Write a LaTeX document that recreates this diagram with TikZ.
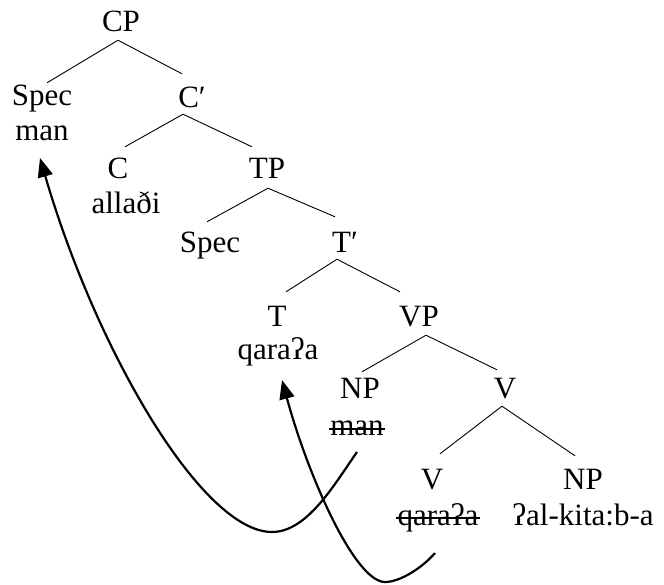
\documentclass[tikz,border=0pt]{standalone}
\usepackage{fontspec}
\setmainfont{Liberation Serif}
\usetikzlibrary{arrows.meta}
\begin{document}
\begin{tikzpicture}[x=1pt,y=-1pt,
  lab/.style={anchor=base, inner xsep=0pt, inner ysep=0pt, text height=21pt, text depth=0pt, font=\fontsize{31}{36}\selectfont},
  branch/.style={line width=0.9pt},
  move/.style={line width=2.2pt, -{Triangle[length=19pt,width=15pt]}},
  strike/.style={line width=1.4pt}]
\useasboundingbox (0,0) rectangle (664,584);
% nodes
\node[lab] (CP) at (121,31) {CP};
\node[lab] (Spec1) at (42,105) {Spec};
\node[lab] (man1) at (42,140) {man};
\node[lab] (Cbar) at (192,107) {C′};
\node[lab] (C) at (118,178) {C};
\node[lab] (alladi) at (126,213) {allaði};
\node[lab] (TP) at (267,178) {TP};
\node[lab] (Spec2) at (210,252) {Spec};
\node[lab] (Tbar) at (345,252) {T′};
\node[lab] (T) at (277,326) {T};
\node[lab] (qara1) at (278,359) {qaraʔa};
\node[lab] (VP) at (419,326) {VP};
\node[lab] (NP1) at (360,398) {NP};
\node[lab] (man2) at (357,435) {man};
\node[lab] (V1) at (505,398) {V};
\node[lab] (V2) at (432,489) {V};
\node[lab] (qara2) at (438,525) {qaraʔa};
\node[lab] (NP2) at (583,489) {NP};
\node[lab] (kitab) at (583,525) {ʔal-kita:b-a};
% branches
\draw[branch] ([xshift=-3pt,yshift=-9pt]CP.south) -- ([xshift=5pt,yshift=1pt]Spec1.north);
\draw[branch] ([xshift=-3pt,yshift=-9pt]CP.south) -- ([xshift=-10pt,yshift=12pt]Cbar.north);
\draw[branch] ([xshift=-9pt,yshift=-7pt]Cbar.south) -- ([xshift=7pt,yshift=10pt]C.north);
\draw[branch] ([xshift=-9pt,yshift=-7pt]Cbar.south) -- ([xshift=-15pt,yshift=10pt]TP.north);
\draw[branch] ([xshift=1pt,yshift=-10pt]TP.south) -- ([xshift=-3pt,yshift=9pt]Spec2.north);
\draw[branch] ([xshift=1pt,yshift=-10pt]TP.south) -- ([xshift=-10pt,yshift=14pt]Tbar.north);
\draw[branch] ([xshift=-8pt,yshift=-7pt]Tbar.south) -- ([xshift=9pt,yshift=13pt]T.north);
\draw[branch] ([xshift=-8pt,yshift=-7pt]Tbar.south) -- ([xshift=-19pt,yshift=13pt]VP.north);
\draw[branch] ([xshift=7pt,yshift=-9pt]VP.south) -- ([xshift=2pt,yshift=5pt]NP1.north);
\draw[branch] ([xshift=7pt,yshift=-9pt]VP.south) -- ([xshift=-8pt,yshift=7pt]V1.north);
\draw[branch] ([xshift=-3pt,yshift=-8pt]V1.south) -- ([xshift=8pt,yshift=14pt]V2.north);
\draw[branch] ([xshift=-3pt,yshift=-8pt]V1.south) -- ([xshift=-8pt,yshift=12pt]NP2.north);
% strike-through
\draw[strike] ([xshift=-1pt,yshift=6pt]man2.base west) -- ([xshift=1pt,yshift=6pt]man2.base east);
\draw[strike] ([xshift=-1pt,yshift=7pt]qara2.base west) -- ([xshift=1pt,yshift=7pt]qara2.base east);
% movement arrows
\coordinate (m2) at (357,452);
\coordinate (b1) at (272,532);
\coordinate (t1) at (40,158);
\draw[move] (m2) .. controls (334,485) and (307,532) .. (b1) .. controls (202,532) and (96,350) .. (t1);
\coordinate (q2) at (435,553);
\coordinate (b2) at (385,582);
\coordinate (t2) at (282,380);
\draw[move] (q2) .. controls (422,568) and (400,582) .. (b2) .. controls (355,582) and (308,476) .. (t2);
\end{tikzpicture}
\end{document}
